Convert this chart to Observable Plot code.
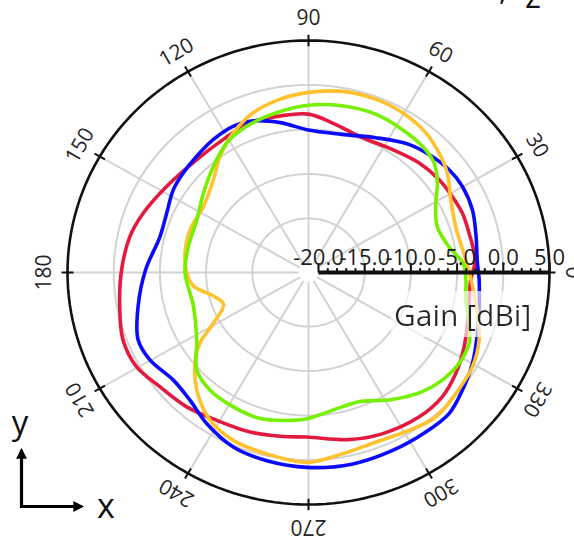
<!DOCTYPE html>
<html><head><meta charset="utf-8">
<script src="https://cdn.jsdelivr.net/npm/d3@7"></script>
<script src="https://cdn.jsdelivr.net/npm/@observablehq/plot@0.6"></script>
<style>
body{margin:0;background:#fff;}
#wrap{position:relative;width:574px;height:539px;overflow:hidden;font-family:"Open Sans",sans-serif;}
#overlay{position:absolute;left:0;top:0;pointer-events:none;}
</style></head><body><div id="wrap"></div>
<script>
// [angle in degrees, gain in dBi]
const seriesBlue = [[3.1,-2.77],[13.6,-2.45],[21.6,-2.00],[30.1,-1.82],[37.2,-1.98],[45.5,-2.49],[53,-3.04],[64.4,-4.28],[76.9,-5.14],[90,-5.07],[100.2,-3.96],[109.2,-3.03],[116.2,-2.73],[124.5,-2.92],[132.8,-3.27],[140.5,-3.51],[147.6,-3.75],[156.6,-4.35],[166,-4.51],[179,-3.45],[191.6,-2.26],[202.3,-1.15],[209.8,-1.30],[219.6,-2.10],[228.2,-1.83],[237.1,-0.83],[247.6,0.17],[258,0.55],[269.6,0.83],[282.3,0.97],[294.3,0.90],[305.3,0.89],[313.8,0.90],[321.6,0.18],[330.1,-0.61],[339.6,-1.57],[348.5,-2.23],[357.6,-2.60]];
const seriesRed = [[4.3,-3.0],[14.2,-3.15],[21.8,-3.14],[28.7,-3.33],[36.4,-3.52],[45.9,-3.91],[56.8,-4.55],[70.5,-4.82],[80.1,-4.17],[90,-3.28],[99.8,-3.22],[110.5,-3.09],[121.6,-3.51],[133.6,-3.55],[147.8,-2.93],[159.6,-1.99],[168.3,-1.33],[179.4,-0.84],[190.5,-0.30],[200.6,0.37],[209.6,0.33],[218.6,-0.50],[228.9,-1.03],[239.2,-1.72],[250.6,-2.07],[261.7,-2.45],[269.6,-2.58],[283,-1.80],[293.7,-1.27],[306.3,-0.91],[316,-0.96],[324.6,-1.52],[333.7,-2.29],[341.7,-2.97],[350.1,-3.43],[357.5,-3.5]];
const seriesYellow = [[4.7,-4.0],[17.8,-4.34],[27.9,-3.65],[36.7,-2.35],[42.4,-1.70],[51.1,-0.88],[60.6,-0.43],[69.6,-0.28],[79.9,-0.40],[90,-0.83],[98.9,-1.35],[108.3,-2.14],[117.3,-3.39],[126.2,-4.89],[134.6,-6.43],[146.9,-7.51],[159.6,-7.40],[171,-7.55],[180,-7.90],[186.9,-8.53],[194.4,-10.46],[201.3,-11.21],[208.9,-9.34],[214,-6.91],[219.7,-5.12],[227.6,-3.16],[237.4,-1.34],[246.8,-0.52],[257.6,-0.20],[269.6,0.26],[280.1,-0.37],[290.8,-0.67],[301.5,-0.26],[310.3,0.22],[319.5,-0.12],[329.2,-0.42],[337.7,-1.12],[346.1,-2.24],[355.1,-3.27]];
const seriesGreen = [[3.4,-4.3],[10.7,-5.60],[20.2,-6.23],[28.3,-5.46],[35.8,-3.89],[42.2,-2.74],[49.1,-2.28],[57.8,-2.07],[67.8,-1.86],[79.1,-2.00],[90,-2.27],[100.7,-2.78],[112,-3.33],[121.2,-4.03],[130.8,-5.33],[141.9,-6.63],[154,-7.63],[167.6,-7.76],[180,-7.72],[196.8,-8.07],[212,-6.82],[222.2,-4.76],[231.2,-4.10],[241.7,-3.93],[252.4,-3.85],[262.1,-4.29],[269.5,-4.65],[283.5,-5.55],[290.5,-5.57],[302.4,-4.17],[312.6,-2.88],[320.1,-2.21],[328,-1.85],[335.5,-1.97],[341.9,-2.79],[349.9,-3.79],[357.4,-4.03]];

const seriesNames = ["S-red", "S-blue", "S-yellow", "S-green"];
const seriesColors = ["#e3193f", "#0a0aff", "#ffc12e", "#77f000"];
const gainMin = -20, gainMax = 5;
const gridGains = [-15, -10, -5, 0];
const gainTicks = [-20, -15, -10, -5, 0, 5];
const angleTicks = [0, 30, 60, 90, 120, 150, 180, 210, 240, 270, 300, 330];
const angleLabels = ["0", "30", "60", "90", "120", "150", "180", "210", "240", "270", "300", "330"];
const axisTitle = "Gain [dBi]";

// radial mapping (gain -> radial units)
const rad = d3.scaleLinear().domain([gainMin, gainMax]).range([10, 241]);
const R = rad(gainMax);
const toXY = (deg, u) => [u * Math.cos(deg * Math.PI / 180), u * Math.sin(deg * Math.PI / 180)];

const seriesData = {"S-red": seriesRed, "S-blue": seriesBlue, "S-yellow": seriesYellow, "S-green": seriesGreen};
const curvePts = seriesNames.flatMap(name => seriesData[name].map(([a, g]) => {
  const [x, y] = toXY(a, rad(g)); return {series: name, x, y};
}));

const sweep = d3.range(0, 360, 2);
const gridPts = gridGains.flatMap(g => sweep.map(a => { const [x, y] = toXY(a, rad(g)); return {g, x, y}; }));
const outerPts = sweep.map(a => { const [x, y] = toXY(a, R); return {x, y}; });
const spokes = angleTicks.map(a => { const [x1, y1] = toXY(a, rad(gainMin)); const [x2, y2] = toXY(a, R); return {x1, y1, x2, y2}; });
const outerTicks = angleTicks.map(a => { const [x1, y1] = toXY(a, R - 6); const [x2, y2] = toXY(a, R + 6); return {x1, y1, x2, y2}; });
const angleText = angleTicks.map((a, i) => { const [x, y] = toXY(a, R + 23); return {x, y, label: angleLabels[i], rot: 90 - a}; });
const minorTicks = d3.range(gainMin, gainMax + 0.5, 1).map(g => ({x: rad(g), major: g % 5 === 0}));
const majorLabels = gainTicks.map(g => ({x: rad(g), label: g.toFixed(1)}));

const chart = Plot.plot({
  width: 574, height: 539,
  marginTop: 0, marginRight: 0, marginBottom: 0, marginLeft: 0,
  x: {domain: [-R, R], range: [308 - 241, 308 + 241], axis: null},
  y: {domain: [-R, R], range: [272 + 232, 272 - 232], axis: null},
  color: {type: "ordinal", domain: seriesNames, range: seriesColors},
  style: {background: "white", fontFamily: "'Open Sans', 'Noto Sans', sans-serif", overflow: "visible"},
  marks: [
    Plot.line(gridPts, {x: "x", y: "y", z: "g", curve: "linear-closed", stroke: "#d2d2d2", strokeWidth: 2}),
    Plot.link(spokes, {x1: "x1", y1: "y1", x2: "x2", y2: "y2", stroke: "#d2d2d2", strokeWidth: 2}),
    Plot.line(outerPts, {x: "x", y: "y", curve: "linear-closed", stroke: "#111", strokeWidth: 2.6}),
    Plot.link(outerTicks, {x1: "x1", y1: "y1", x2: "x2", y2: "y2", stroke: "#111", strokeWidth: 2}),
    Plot.text(angleText, {x: "x", y: "y", text: "label", rotate: "rot", fontSize: 21, fill: "#262626", textAnchor: "middle", lineAnchor: "middle"}),
    Plot.line(curvePts, {x: "x", y: "y", z: "series", stroke: "series", curve: "catmull-rom-closed", strokeWidth: 3.6}),
    Plot.link(minorTicks, {x1: "x", x2: "x", y1: 0, y2: d => d.major ? 9.5 : 4.5, stroke: "#111", strokeWidth: 2}),
    Plot.link([rad(gainMin)], {x1: d => d, x2: () => R, y1: 0, y2: 0, stroke: "#111", strokeWidth: 4}),
    Plot.text(majorLabels, {x: "x", y: 0, text: "label", fontSize: 22, fill: "#1e1e1e", textAnchor: "middle", lineAnchor: "bottom", dy: -8}),
    Plot.text([axisTitle], {x: rad(-4.4), y: 0, text: d => d, fontSize: 30, fill: "#262626", textAnchor: "middle", lineAnchor: "bottom", dy: 53, className: "gain-title"})
  ]
});

const wrap = document.getElementById("wrap");
wrap.appendChild(chart);

// semi-transparent white box behind the radial axis title
const svgNS = "http://www.w3.org/2000/svg";
const defs = document.createElementNS(svgNS, "defs");
defs.innerHTML = '<filter id="bgbox" x="-0.02" y="-0.04" width="1.04" height="1.08"><feFlood flood-color="white" flood-opacity="0.65" result="bg"/><feMerge><feMergeNode in="bg"/><feMergeNode in="SourceGraphic"/></feMerge></filter>';
chart.insertBefore(defs, chart.firstChild);
chart.querySelectorAll(".gain-title text").forEach(t => t.setAttribute("filter", "url(#bgbox)"));

// coordinate-system triad (decoration)
const overlay = document.createElementNS(svgNS, "svg");
overlay.setAttribute("id", "overlay");
overlay.setAttribute("width", 574);
overlay.setAttribute("height", 539);
overlay.innerHTML = `
<defs><marker id="ah" viewBox="0 0 10 10" refX="8" refY="5" markerWidth="3.4" markerHeight="3.4" orient="auto"><path d="M0,0 L10,5 L0,10 z" fill="#000"/></marker></defs>
<path d="M21.5,507 V450" stroke="#000" stroke-width="3.2" fill="none" marker-end="url(#ah)"/>
<path d="M20,506.5 H82" stroke="#000" stroke-width="3.2" fill="none" marker-end="url(#ah)"/>
<text x="20" y="434" font-size="33" text-anchor="middle" font-family="'Open Sans', sans-serif" fill="#111">y</text>
<text x="106" y="518" font-size="34" text-anchor="middle" font-family="'Open Sans', sans-serif" fill="#111">x</text>
<text x="533" y="8" font-size="34" text-anchor="middle" font-family="'Open Sans', sans-serif" fill="#111">z</text>
<text x="503" y="0" font-size="30" text-anchor="middle" font-family="'Open Sans', sans-serif" fill="#111">,</text>`;
wrap.appendChild(overlay);
</script>
</body></html>
